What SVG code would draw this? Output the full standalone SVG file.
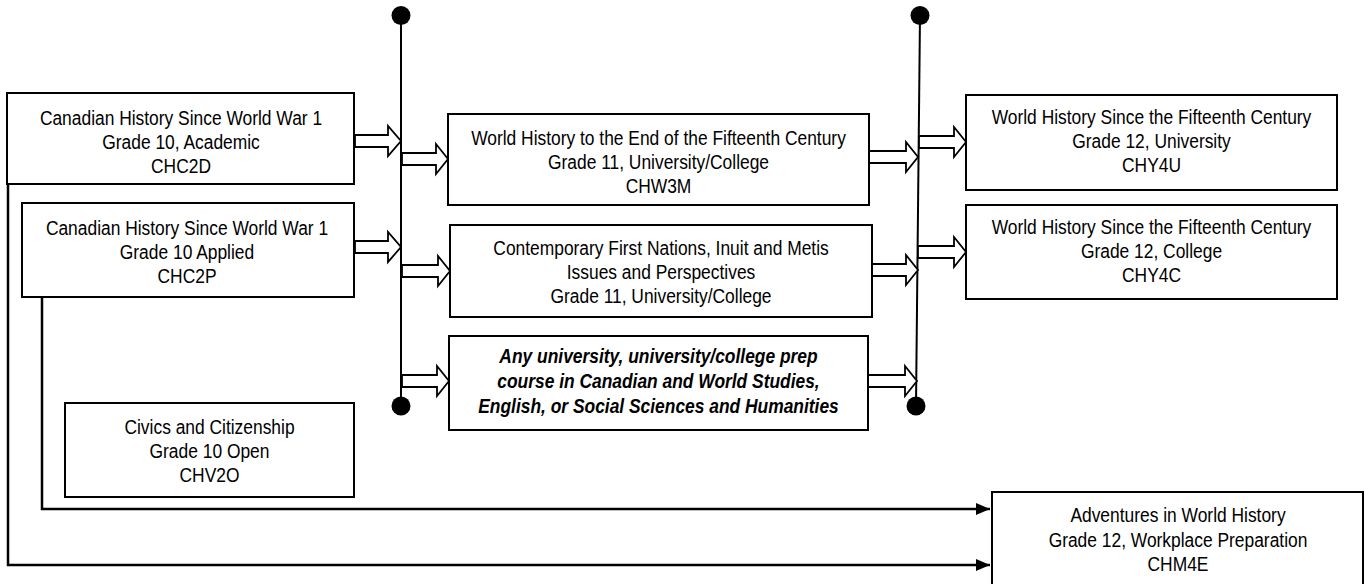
<svg xmlns="http://www.w3.org/2000/svg" width="1365" height="584" viewBox="0 0 1365 584">
<style>
.box{fill:#fff;stroke:#000;stroke-width:2}
.t{font-family:"Liberation Sans",Arial,sans-serif;font-size:20px;fill:#000;text-anchor:middle}
.bi{font-weight:bold;font-style:italic}
.bus{stroke:#000;stroke-width:2;fill:none}
.dot{fill:#000}
.ba{fill:#fff;stroke:#000;stroke-width:1.8;stroke-linejoin:miter}
.ln{stroke:#000;stroke-width:2.5;fill:none}
</style>
<defs>
<marker id="ah" markerWidth="14" markerHeight="12" refX="14" refY="6" orient="auto" markerUnits="userSpaceOnUse">
<path d="M0,0 L14,6 L0,12 Z" fill="#000"/>
</marker>
</defs>
<g id="connectors">
<path class="ln" d="M8,184 V565 H990" marker-end="url(#ah)"/>
<path class="ln" d="M42,297 V509 H990" marker-end="url(#ah)"/>
<line class="bus" x1="401" y1="15" x2="401" y2="406"/>
<line class="bus" x1="920" y1="15" x2="916" y2="406"/>
<circle class="dot" cx="401" cy="15.5" r="9.5"/>
<circle class="dot" cx="401" cy="406" r="9.5"/>
<circle class="dot" cx="920" cy="15.5" r="9.5"/>
<circle class="dot" cx="916" cy="406" r="9.5"/>
<path class="ba" d="M355,135 H388 V126 L401,141 L388,156 V147 H355 Z"/>
<path class="ba" d="M355,241 H388 V232 L401,247 L388,262 V253 H355 Z"/>
<path class="ba" d="M402,153 H436 V144 L448,159 L436,174 V165 H402 Z"/>
<path class="ba" d="M402,265 H438 V256 L450,271 L438,286 V277 H402 Z"/>
<path class="ba" d="M402,375 H437 V366 L449,381 L437,396 V387 H402 Z"/>
<path class="ba" d="M869,151 H906 V142 L918,157 L906,172 V163 H869 Z"/>
<path class="ba" d="M872,264 H906 V255 L918,270 L906,285 V276 H872 Z"/>
<path class="ba" d="M868,375 H905 V366 L917,381 L905,396 V387 H868 Z"/>
<path class="ba" d="M919,136 H954 V127 L966,142 L954,157 V148 H919 Z"/>
<path class="ba" d="M918,246 H954 V237 L966,252 L954,267 V258 H918 Z"/>
</g>
<g id="chc2d">
<rect class="box" x="7" y="93" width="347" height="91"/>
<g transform="translate(181,0) scale(0.87,1)">
<text class="t" x="0" y="125">Canadian History Since World War 1</text>
<text class="t" x="0" y="149">Grade 10, Academic</text>
<text class="t" x="0" y="173">CHC2D</text>
</g>
</g>
<g id="chc2p">
<rect class="box" x="22" y="203" width="332" height="94"/>
<g transform="translate(187,0) scale(0.87,1)">
<text class="t" x="0" y="235">Canadian History Since World War 1</text>
<text class="t" x="0" y="259">Grade 10 Applied</text>
<text class="t" x="0" y="283">CHC2P</text>
</g>
</g>
<g id="chv2o">
<rect class="box" x="65" y="403" width="289" height="94"/>
<g transform="translate(209.5,0) scale(0.87,1)">
<text class="t" x="0" y="434">Civics and Citizenship</text>
<text class="t" x="0" y="458">Grade 10 Open</text>
<text class="t" x="0" y="482">CHV2O</text>
</g>
</g>
<g id="chw3m">
<rect class="box" x="448" y="114" width="421" height="91"/>
<g transform="translate(658.5,0) scale(0.87,1)">
<text class="t" x="0" y="145">World History to the End of the Fifteenth Century</text>
<text class="t" x="0" y="169">Grade 11, University/College</text>
<text class="t" x="0" y="193">CHW3M</text>
</g>
</g>
<g id="contemporary">
<rect class="box" x="450" y="225" width="422" height="92"/>
<g transform="translate(661,0) scale(0.87,1)">
<text class="t" x="0" y="255">Contemporary First Nations, Inuit and Metis</text>
<text class="t" x="0" y="279">Issues and Perspectives</text>
<text class="t" x="0" y="303">Grade 11, University/College</text>
</g>
</g>
<g id="any">
<rect class="box" x="449" y="336" width="419" height="94"/>
<g transform="translate(658.5,0) scale(0.87,1)">
<text class="t bi" x="0" y="363">Any university, university/college prep</text>
<text class="t bi" x="0" y="388">course in Canadian and World Studies,</text>
<text class="t bi" x="0" y="413">English, or Social Sciences and Humanities</text>
</g>
</g>
<g id="chy4u">
<rect class="box" x="966" y="95" width="371" height="95"/>
<g transform="translate(1151.5,0) scale(0.87,1)">
<text class="t" x="0" y="124">World History Since the Fifteenth Century</text>
<text class="t" x="0" y="148">Grade 12, University</text>
<text class="t" x="0" y="172">CHY4U</text>
</g>
</g>
<g id="chy4c">
<rect class="box" x="966" y="205" width="371" height="94"/>
<g transform="translate(1151.5,0) scale(0.87,1)">
<text class="t" x="0" y="234">World History Since the Fifteenth Century</text>
<text class="t" x="0" y="258">Grade 12, College</text>
<text class="t" x="0" y="282">CHY4C</text>
</g>
</g>
<g id="chm4e">
<rect class="box" x="992" y="492" width="371" height="110"/>
<g transform="translate(1178,0) scale(0.87,1)">
<text class="t" x="0" y="522">Adventures in World History</text>
<text class="t" x="0" y="547">Grade 12, Workplace Preparation</text>
<text class="t" x="0" y="571">CHM4E</text>
</g>
</g>
</svg>
